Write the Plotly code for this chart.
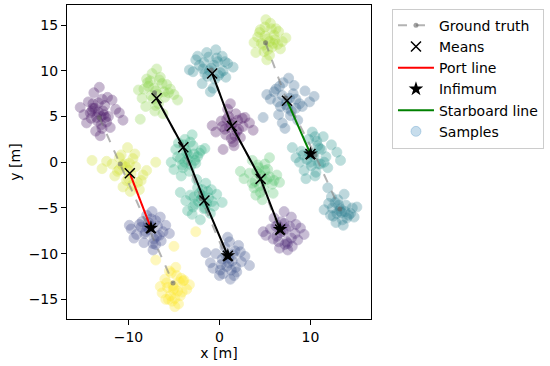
import plotly.graph_objects as go

# ---------------- data ----------------
# ground truth chains (4 chains x 4 points)
gt_chain_x = [[-13.2, -10.9, -7.7, -5.1],
              [-7.13, -4.2, -2.0, 0.7],
              [-0.9, 1.2, 4.3, 6.5],
              [5.07, 7.3, 10.5, 13.23]]
gt_chain_y = [[4.9, -0.2, -7.4, -13.2],
              [7.6, 1.9, -4.0, -10.3],
              [10.1, 4.3, -1.5, -7.2],
              [13.06, 7.0, 0.8, -5.13]]

# means
means_x = [-9.85, -7.53, -6.91, -3.97, -1.65, 0.92, -0.8, 1.36, 4.52, 6.66, 7.42, 10.0]
means_y = [-1.2, -7.2, 6.99, 1.64, -4.19, -10.23, 9.71, 3.96, -1.82, -7.35, 6.73, 0.91]

# black mean chains
mid1_x = [-6.91, -3.97, -1.65, 0.92]
mid1_y = [6.99, 1.64, -4.19, -10.23]
mid2_x = [-0.8, 1.36, 4.52, 6.66]
mid2_y = [9.71, 3.96, -1.82, -7.35]

port_x = [-9.85, -7.53]
port_y = [-1.2, -7.2]
star_x = [7.42, 10.0]
star_y = [6.73, 0.91]

inf_x = [-7.53, 0.92, 6.66, 10.0]
inf_y = [-7.2, -10.23, -7.35, 0.91]

# samples per cluster (x list, y list, colormap value)
A1_x = [-13.3, -12.6, -14.1, -13.8, -12.2, -11.4, -14.9, -13.0, -12.9, -15.3, -13.6, -11.0, -12.4, -14.4, -13.2, -12.0, -13.9, -14.6, -12.7, -13.5, -10.6, -13.1, -12.3, -14.0,
        -13.0, -13.7, -12.8, -14.2, -13.4, -12.5, -13.9, -12.9, -13.3, -11.8]
A1_y = [5.5, 6.2, 4.8, 7.6, 5.0, 5.8, 5.2, 4.1, 6.9, 6.0, 3.4, 5.4, 4.4, 6.6, 8.2, 3.8, 5.9, 4.3, 5.2, 4.9, 4.6, 2.9, 7.1, 5.6,
        5.0, 5.9, 5.6, 5.4, 4.5, 4.9, 6.4, 3.7, 6.5, 6.8]
A2_x = [-10.3, -9.5, -11.2, -10.8, -9.0, -8.4, -11.8, -10.0, -9.8, -12.4, -10.6, -8.0, -9.3, -11.5, -10.1, -9.6, -12.9, -14.0, -7.0, -10.4, -8.8, -11.0,
        -10.0, -9.7, -10.7, -9.2, -11.0, -10.2, -9.9, -8.6]
A2_y = [-0.5, 0.4, -1.0, 0.8, -2.2, -1.4, -0.2, -1.8, -3.2, 0.1, -2.7, -0.9, 0.9, -1.5, 1.6, -2.5, -0.7, 0.2, 0.0, -0.2, -3.0, -0.8,
        -0.9, -1.3, -0.3, -0.5, 0.5, -2.0, -0.1, -2.0]
A3_x = [-7.7, -8.5, -6.8, -9.1, -7.2, -8.0, -6.2, -9.7, -7.5, -8.3, -5.5, -7.0, -8.8, -6.5, -7.9, -9.4, -6.9, -7.4, -8.1, -5.9, -7.3, -6.6,
        -7.6, -8.2, -7.0, -8.6, -7.3, -6.4, -9.9, -7.8]
A3_y = [-7.4, -6.5, -7.0, -7.9, -8.4, -5.8, -7.6, -7.3, -6.2, -8.8, -7.8, -9.0, -6.8, -6.0, -7.1, -8.3, -8.1, -5.4, -7.6, -6.9, -9.6, -8.0,
        -7.0, -7.8, -6.4, -7.1, -8.9, -8.6, -6.9, -6.6]
A4_x = [-5.0, -4.3, -5.8, -4.7, -3.6, -6.3, -5.2, -4.0, -5.5, -4.9, -3.3, -6.0, -4.5, -5.3, -4.1, -6.5, -4.8, -5.6, -3.9, -5.1, -5.0, -7.0, -2.6,
        -5.1, -4.6, -5.4, -4.4, -5.7, -4.9, -4.2, -5.9]
A4_y = [-13.8, -14.6, -13.2, -12.4, -13.9, -14.3, -15.2, -13.0, -11.9, -14.9, -13.4, -12.8, -15.5, -12.1, -14.2, -13.6, -11.5, -15.0, -12.9, -14.0, -9.2, -10.7, -7.6,
        -13.5, -14.1, -14.6, -13.1, -13.7, -15.8, -12.7, -15.0]
B1_x = [-7.0, -6.3, -7.8, -8.5, -6.0, -5.4, -7.4, -6.7, -8.9, -7.1, -5.0, -6.5, -8.1, -7.6, -6.2, -4.6, -7.3, -8.7, -6.9, -5.8, -8.0, -7.5,
        -6.8, -7.2, -6.1, -7.9, -6.6, -5.6, -8.3, -7.0]
B1_y = [7.8, 8.6, 8.3, 7.0, 7.1, 8.0, 9.7, 6.4, 7.9, 5.6, 7.4, 9.3, 6.1, 8.9, 5.3, 6.8, 6.9, 4.7, 10.2, 8.5, 9.1, 7.3,
        7.4, 8.1, 7.7, 8.7, 9.0, 7.6, 8.0, 6.2]
B2_x = [-3.6, -2.9, -4.3, -3.1, -4.8, -2.4, -3.8, -3.3, -5.3, -2.0, -4.0, -3.0, -4.5, -2.6, -3.5, -5.0, -1.6, -3.9, -2.8, -4.2,
        -3.4, -3.7, -2.7, -4.6, -3.2, -4.1, -2.2, -3.8]
B2_y = [1.0, 1.8, 0.4, -0.3, 1.4, 0.6, 2.5, -1.0, 0.0, 1.3, -0.6, 3.0, 2.1, -0.1, 0.3, -0.8, 1.5, 1.9, 0.9, -1.5,
        0.8, 1.3, 0.2, 0.6, 2.2, -0.3, 1.0, 0.0]
B3_x = [-2.0, -1.3, -2.7, -1.7, -3.2, -0.8, -2.4, -1.0, -3.7, -0.3, -2.1, -1.5, -2.9, -0.6, -1.9, -3.5, -2.5, -1.2, 0.3, -4.3,
        -1.8, -2.3, -1.4, -2.8, -1.6, -0.9, -2.2, -3.0]
B3_y = [-4.0, -3.2, -4.6, -5.1, -3.6, -4.3, -2.8, -5.6, -4.2, -3.5, -6.3, -2.3, -4.9, -4.8, -3.0, -5.3, -1.9, -3.9, -4.4, -3.3,
        -3.7, -4.3, -4.5, -3.8, -5.0, -3.0, -3.4, -5.7]
B4_x = [1.0, 1.7, 0.2, -0.4, 1.3, 2.4, 0.6, -1.0, 1.9, 0.0, 2.8, 1.1, -0.7, 0.8, 1.5, 3.3, 0.4, -1.5, 2.1, 1.2, 0.9,
        0.7, 1.4, 0.3, 1.8, 1.0, 0.1, 2.3, 1.6]
B4_y = [-10.5, -9.7, -11.2, -10.0, -11.8, -10.9, -9.3, -11.0, -12.0, -12.4, -10.3, -8.7, -11.6, -11.4, -10.1, -11.3, -12.2, -9.9, -9.1, -12.8, -8.2,
        -10.2, -10.8, -10.6, -11.5, -11.0, -11.8, -9.8, -12.4]
C1_x = [-0.9, -0.2, -1.6, -2.2, 0.4, -1.2, -0.5, -2.9, 0.9, -1.9, -0.1, -1.4, 1.5, -2.6, -0.7, 0.3, -3.3, -1.0, 0.7, -1.7, -0.4,
        -1.1, -0.6, -1.8, 0.1, -1.3, -2.4, -0.3, 0.6]
C1_y = [10.3, 11.0, 9.7, 10.6, 10.0, 11.5, 9.1, 9.9, 10.8, 8.6, 9.5, 12.0, 10.4, 11.2, 8.1, 11.6, 10.1, 7.7, 9.3, 10.9, 12.3,
        10.0, 10.6, 10.2, 9.8, 9.4, 11.6, 11.4, 11.0]
C2_x = [1.3, 2.0, 0.6, 1.7, 2.6, 0.2, 1.0, 3.3, 1.5, -0.4, 2.3, 0.9, 1.9, 3.7, 0.4, 1.2, 2.8, -0.8, 1.6, 0.7,
        1.1, 1.5, 0.8, 2.1, 1.8, 0.3, 2.5, 1.3]
C2_y = [4.1, 4.6, 3.6, 2.9, 3.9, 4.5, 5.0, 4.3, 2.2, 3.3, 2.7, 5.8, 3.4, 3.5, 1.4, 6.4, 4.9, 4.0, 1.8, 3.0,
        3.8, 4.3, 4.7, 3.6, 5.3, 3.9, 4.8, 2.6]
C3_x = [4.6, 5.3, 3.9, 4.2, 5.8, 3.3, 4.9, 6.3, 4.0, 2.7, 5.5, 4.4, 3.6, 6.6, 5.0, 2.3, 4.7, 5.9, 3.8, 4.3, 5.2,
        4.4, 4.9, 4.1, 5.5, 3.6, 5.0, 4.5, 6.0]
C3_y = [-1.5, -0.8, -2.1, -0.3, -2.4, -1.2, -3.0, -1.4, -3.6, -1.8, 0.5, -2.6, 0.2, -2.2, -0.9, -1.0, -4.1, -3.4, -2.8, -0.6, -1.9,
        -1.3, -2.0, -1.0, -1.6, -2.3, -0.2, -3.3, -2.0]
C4_x = [7.0, 7.7, 6.3, 6.8, 8.3, 5.6, 7.4, 8.9, 6.0, 7.2, 9.3, 5.1, 6.6, 7.9, 8.6, 4.8, 7.1, 6.4, 8.0, 5.9, 7.5,
        7.3, 6.7, 7.9, 7.1, 6.2, 8.4, 7.5, 6.5]
C4_y = [-7.6, -7.0, -8.1, -6.5, -7.8, -7.3, -8.7, -7.2, -6.1, -9.0, -7.9, -8.0, -9.4, -6.0, -8.5, -7.6, -5.4, -6.9, -9.2, -8.4, -8.9,
        -7.3, -7.7, -8.3, -6.7, -7.0, -6.8, -9.6, -8.7]
D1_x = [5.3, 6.0, 4.6, 5.8, 6.5, 4.2, 5.0, 6.9, 5.6, 3.8, 4.9, 6.2, 5.5, 4.4, 7.3, 5.1, 6.7, 4.0, 5.9, 5.2,
        5.5, 5.0, 6.1, 4.8, 5.7, 6.4, 4.5, 5.3]
D1_y = [13.5, 13.9, 13.0, 12.6, 14.3, 13.7, 14.8, 13.2, 15.2, 13.1, 12.1, 14.6, 11.7, 14.2, 13.6, 15.6, 12.4, 12.0, 13.0, 11.2,
        13.2, 13.8, 13.4, 12.8, 14.6, 12.9, 14.5, 12.3]
D2_x = [7.4, 8.1, 6.7, 6.2, 8.8, 7.0, 7.9, 5.6, 9.4, 6.5, 8.4, 7.6, 5.2, 9.9, 6.9, 8.2, 7.2, 4.8, 10.4, 6.0, 8.6, 7.8,
        7.3, 7.7, 6.9, 8.4, 6.4, 7.5, 9.1, 6.6]
D2_y = [6.7, 7.5, 6.1, 8.0, 6.4, 8.7, 5.6, 6.9, 7.8, 5.2, 5.9, 9.2, 7.4, 6.6, 4.3, 8.4, 3.7, 4.9, 7.2, 7.7, 4.6, 5.1,
        6.3, 7.0, 7.3, 6.9, 6.6, 5.9, 6.1, 8.3]
D3_x = [10.3, 11.0, 9.6, 10.7, 11.7, 9.0, 10.1, 12.3, 9.3, 10.9, 8.4, 11.4, 12.9, 9.8, 10.5, 8.0, 11.9, 10.2, 13.3, 9.5, 11.2, 10.6, 8.8,
        10.4, 9.9, 10.8, 11.5, 10.0, 9.2, 11.1, 10.5]
D3_y = [0.9, 1.5, 0.3, 2.3, 0.6, 1.2, -0.4, 1.9, -0.9, -0.2, 0.5, 2.8, 1.1, 2.5, -1.5, 1.6, -0.6, 3.3, 0.2, -1.8, 1.4, -1.1, 0.0,
        0.6, 1.0, 1.8, 0.0, 0.0, 0.8, -0.2, 2.8]
D4_x = [13.2, 13.9, 12.5, 13.5, 14.6, 12.0, 13.0, 14.2, 12.8, 11.5, 13.7, 15.1, 12.3, 13.4, 14.8, 11.9, 12.7, 14.0,
        13.3, 12.9, 13.8, 13.1, 12.4, 14.4, 13.6, 12.2]
D4_y = [-5.3, -4.7, -5.9, -6.3, -5.0, -4.5, -4.1, -5.8, -6.6, -5.2, -3.5, -4.9, -3.8, -5.5, -6.0, -2.8, -4.4, -6.1,
        -5.1, -5.6, -5.4, -4.7, -5.0, -5.6, -6.9, -5.8]

clusters = [
    (A1_x, A1_y, 0.05), (A2_x, A2_y, 0.93), (A3_x, A3_y, 0.22), (A4_x, A4_y, 1.0),
    (B1_x, B1_y, 0.82), (B2_x, B2_y, 0.62), (B3_x, B3_y, 0.60), (B4_x, B4_y, 0.25),
    (C1_x, C1_y, 0.45), (C2_x, C2_y, 0.03), (C3_x, C3_y, 0.72), (C4_x, C4_y, 0.10),
    (D1_x, D1_y, 0.87), (D2_x, D2_y, 0.32), (D3_x, D3_y, 0.50), (D4_x, D4_y, 0.42),
]

x_ticks = [-10, 0, 10]
y_ticks = [-15, -10, -5, 0, 5, 10, 15]

# ---------------- figure ----------------
sx, sy, sc = [], [], []
for cx, cy, cv in clusters:
    sx += cx
    sy += cy
    sc += [cv] * len(cx)

fig = go.Figure()

fig.add_trace(go.Scatter(
    x=sx, y=sy, mode="markers", showlegend=False, hoverinfo="skip",
    marker=dict(size=10, color=sc, colorscale="Viridis", cmin=0, cmax=1, opacity=0.3,
                line=dict(width=0.8, color=sc, colorscale="Viridis", cmin=0, cmax=1)),
))

gx, gy = [], []
for cx, cy in zip(gt_chain_x, gt_chain_y):
    gx += cx + [None]
    gy += cy + [None]
fig.add_trace(go.Scatter(
    x=gx, y=gy, mode="lines+markers", name="Ground truth", legendrank=1,
    line=dict(color="rgba(128,128,128,0.6)", width=2, dash="dash"),
    marker=dict(size=5, color="rgba(100,100,100,0.6)"),
))

fig.add_trace(go.Scatter(x=mid1_x, y=mid1_y, mode="lines", showlegend=False,
                         line=dict(color="black", width=2)))
fig.add_trace(go.Scatter(x=mid2_x, y=mid2_y, mode="lines", showlegend=False,
                         line=dict(color="black", width=2)))
fig.add_trace(go.Scatter(x=port_x, y=port_y, mode="lines", name="Port line", legendrank=3,
                         line=dict(color="red", width=2)))
fig.add_trace(go.Scatter(x=star_x, y=star_y, mode="lines", name="Starboard line", legendrank=5,
                         line=dict(color="green", width=2)))
fig.add_trace(go.Scatter(x=means_x, y=means_y, mode="markers", name="Means", legendrank=2,
                         marker=dict(symbol="x-thin", size=10, color="black",
                                     line=dict(width=1.5, color="black"))))
fig.add_trace(go.Scatter(x=inf_x, y=inf_y, mode="markers", name="Infimum", legendrank=4,
                         marker=dict(symbol="star", size=11, color="black")))
fig.add_trace(go.Scatter(x=[None], y=[None], mode="markers", name="Samples", legendrank=6,
                         marker=dict(size=10, color="rgba(31,119,180,0.25)",
                                     line=dict(width=0.8, color="rgba(31,119,180,0.3)"))))

axis_common = dict(showline=True, mirror=True, linecolor="black", linewidth=1,
                   ticks="outside", ticklen=5, tickcolor="black", showgrid=False,
                   zeroline=False, automargin=False,
                   tickfont=dict(size=14, color="black"))

fig.update_layout(
    width=550, height=366,
    margin=dict(l=67, r=179, t=5, b=47, autoexpand=False),
    plot_bgcolor="white", paper_bgcolor="white",
    font=dict(family="DejaVu Sans", size=14, color="black"),
    xaxis=dict(range=[-16.75, 16.65], tickvals=x_ticks, ticktext=["\u221210", "0", "10"],
               title=dict(text="x [m]", font=dict(size=14), standoff=4), **axis_common),
    yaxis=dict(range=[-17.15, 17.2], tickvals=y_ticks,
               ticktext=["\u221215", "\u221210", "\u22125", "0", "5", "10", "15"],
               title=dict(text="y [m]", font=dict(size=14), standoff=4), **axis_common),
    legend=dict(x=1.069, y=0.988, xanchor="left", yanchor="top",
                bordercolor="#cccccc", borderwidth=1, font=dict(size=14),
                bgcolor="white", itemwidth=36),
)

fig.write_html("out.html",
               config={"displayModeBar": False},
               post_script="document.body.style.margin='0';document.body.style.overflow='hidden';")
